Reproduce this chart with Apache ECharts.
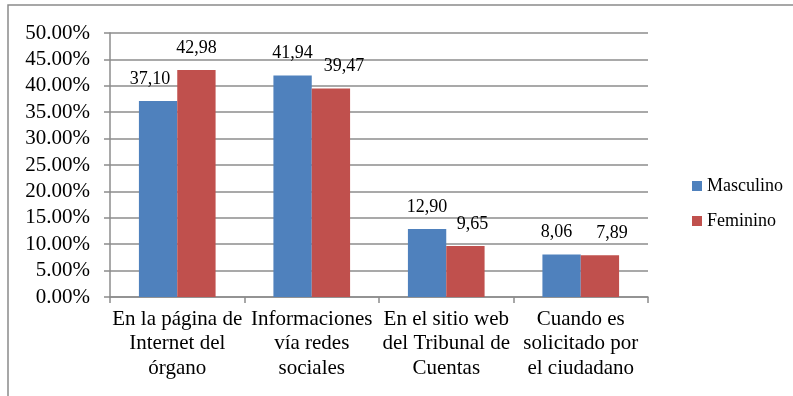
<!DOCTYPE html>
<html>
<head>
<meta charset="utf-8">
<script src="https://cdn.jsdelivr.net/npm/echarts@6/dist/echarts.min.js"></script>
<style>
  html, body { margin: 0; padding: 0; background: #fff; }
  #chart { width: 793px; height: 396px; }
</style>
</head>
<body>
<div id="chart"></div>
<script>
// Channels through which information is received, by sex (%)
const categories = [
  'En la página de\nInternet del\nórgano',
  'Informaciones\nvía redes\nsociales',
  'En el sitio web\ndel Tribunal de\nCuentas',
  'Cuando es\nsolicitado por\nel ciudadano'
];
const masculino = [37.10, 41.94, 12.90, 8.06];
const feminino = [42.98, 39.47, 9.65, 7.89];
const seriesNames = ['Masculino', 'Feminino'];

const FONT = '"Liberation Serif", "Times New Roman", serif';
const GRID_COLOR = '#8c8c8c';

// horizontal nudges (px) that keep neighbouring value labels apart
const mascLabelShift = [-8, 0, 0, -5];
const femLabelShift = [0, 13, 7, 12];

const chart = echarts.init(document.getElementById('chart'));

const valueLabel = {
  show: true,
  position: 'top',
  distance: 13,
  color: '#000',
  fontFamily: FONT,
  fontSize: 18,
  formatter: p => p.value.toFixed(2).replace('.', ',')
};

const withShift = (values, shifts) =>
  values.map((v, i) => ({ value: v, label: { offset: [shifts[i], 0] } }));

chart.setOption({
  animation: false,
  textStyle: { fontFamily: FONT },
  graphic: [{
    type: 'rect',
    shape: { x: 8, y: 5, width: 800, height: 400 },
    style: { fill: 'none', stroke: '#8a8a8a', lineWidth: 1.5 },
    silent: true
  }],
  legend: {
    orient: 'vertical',
    left: 687,
    top: 172,
    itemWidth: 10,
    itemHeight: 10,
    itemGap: 17,
    icon: 'rect',
    textStyle: { fontFamily: FONT, fontSize: 18, color: '#000' },
    data: seriesNames
  },
  grid: { left: 110, top: 33, width: 538, height: 264, containLabel: false },
  xAxis: {
    type: 'category',
    data: categories,
    axisLine: { lineStyle: { color: GRID_COLOR, width: 1.5 } },
    axisTick: { show: true, length: 6, lineStyle: { color: GRID_COLOR, width: 1.5 } },
    axisLabel: {
      interval: 0,
      margin: 10,
      color: '#000',
      fontFamily: FONT,
      fontSize: 21,
      lineHeight: 24.5
    }
  },
  yAxis: {
    type: 'value',
    min: 0,
    max: 50,
    interval: 5,
    axisLine: { show: true, lineStyle: { color: GRID_COLOR, width: 1.5 } },
    axisTick: { show: true, length: 6, lineStyle: { color: GRID_COLOR, width: 1.5 } },
    splitLine: { show: true, lineStyle: { color: GRID_COLOR, width: 1.5 } },
    axisLabel: {
      margin: 20,
      color: '#000',
      fontFamily: FONT,
      fontSize: 21,
      formatter: v => v.toFixed(2) + '%'
    }
  },
  series: [
    {
      name: seriesNames[0],
      type: 'bar',
      data: withShift(masculino, mascLabelShift),
      barGap: '0%',
      barCategoryGap: '43%',
      itemStyle: { color: '#4f81bd' },
      label: valueLabel
    },
    {
      name: seriesNames[1],
      type: 'bar',
      data: withShift(feminino, femLabelShift),
      barGap: '0%',
      barCategoryGap: '43%',
      itemStyle: { color: '#c0504d' },
      label: valueLabel
    }
  ]
});
</script>
</body>
</html>
